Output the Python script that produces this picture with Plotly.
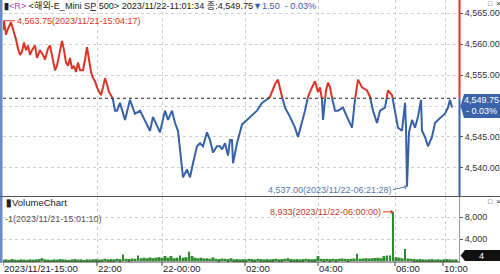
import plotly.graph_objects as go

# ---------------- data ----------------
REF_PRICE = 4551.25  # previous close
price_x = [3, 4, 6, 8, 11, 13, 16, 18, 20, 22, 24, 26, 28, 30, 32, 35, 37, 40, 43, 45,
           48, 50, 52, 55, 57, 60, 62, 64, 66, 68, 70, 72, 74, 76, 78, 80, 83, 85, 87, 89,
           91, 93, 95, 97, 99, 101, 103, 105, 107, 109, 111, 113, 115, 117, 120, 125, 130, 135, 140, 145,
           150, 153, 160, 165, 168, 172, 175, 178, 180, 182, 183, 187, 190, 193, 197, 200, 203, 207, 210, 213,
           217, 220, 222, 225, 228, 230, 232, 233, 237, 242, 247, 252, 257, 262, 267, 270, 275, 278, 282, 285,
           290, 295, 298, 302, 305, 308, 312, 315, 318, 320, 322, 323, 326, 328, 330, 333, 335, 338, 343, 347,
           352, 355, 358, 362, 367, 370, 373, 377, 380, 385, 388, 392, 395, 398, 402, 405, 406, 407, 409, 412,
           415, 418, 421, 422, 425, 428, 432, 435, 438, 442, 445, 448, 450, 452]
price_y = [4562.25, 4563.75, 4561.5, 4562.5, 4563.5, 4562.5, 4560.75, 4559.25, 4558.25, 4558.75,
           4560.25, 4559.0, 4559.75, 4558.25, 4559.0, 4559.75, 4557.75, 4559.0, 4558.25, 4557.5,
           4559.25, 4559.75, 4558.25, 4555.75, 4556.5, 4559.25, 4560.5, 4559.0, 4557.0, 4556.5,
           4557.75, 4556.0, 4556.5, 4555.5, 4557.0, 4555.75, 4555.75, 4557.5, 4559.5, 4557.5,
           4555.5, 4554.5, 4554.0, 4553.0, 4552.25, 4551.75, 4553.0, 4554.5, 4553.5, 4552.25,
           4551.75, 4551.0, 4549.25, 4549.25, 4550.5, 4547.75, 4551.0, 4548.75, 4549.25, 4547.75,
           4546.0, 4548.25, 4545.75, 4549.25, 4547.75, 4549.25, 4547.25, 4546.0, 4543.0, 4540.25,
           4538.5, 4539.75, 4538.5, 4540.75, 4543.5, 4544.0, 4543.5, 4545.75, 4544.5, 4542.5,
           4543.5, 4543.5, 4543.0, 4544.0, 4542.0, 4544.5, 4544.5, 4540.75, 4544.0, 4547.0,
           4547.75, 4548.5, 4549.25, 4550.5, 4551.0, 4551.5, 4553.5, 4554.25, 4551.5, 4549.75,
           4548.25, 4546.5, 4545.0, 4547.25, 4549.25, 4551.5, 4553.0, 4554.0, 4552.25, 4553.0,
           4551.0, 4547.75, 4552.5, 4553.75, 4553.0, 4550.5, 4549.25, 4549.25, 4549.75, 4548.25,
           4546.5, 4551.0, 4554.25, 4553.0, 4552.5, 4551.5, 4549.25, 4547.25, 4549.25, 4549.75,
           4552.5, 4551.75, 4549.25, 4546.5, 4546.0, 4550.5, 4546.5, 4537.0, 4545.75, 4547.75,
           4546.5, 4548.25, 4551.0, 4546.0, 4545.0, 4543.5, 4545.0, 4547.25, 4547.75, 4548.25,
           4548.75, 4549.75, 4551.0, 4549.75]

vol_x = list(range(3, 457, 3))
vol_y = [250, 300, 200, 350, 250, 200, 300, 250, 200, 300,
         250, 300, 350, 500, 300, 250, 200, 300, 250, 350,
         300, 250, 200, 300, 350, 250, 300, 200, 300, 250,
         300, 350, 250, 300, 400, 300, 350, 300, 400, 350,
         1200, 400, 350, 450, 400, 1000, 500, 600, 500, 650,
         500, 600, 700, 550, 900, 600, 900, 500, 600, 1000,
         600, 700, 1700, 900, 600, 500, 600, 450, 500, 400,
         650, 400, 350, 450, 400, 350, 500, 300, 350, 300,
         350, 300, 400, 350, 300, 400, 350, 300, 350, 300,
         350, 400, 300, 350, 400, 500, 350, 300, 350, 300,
         350, 400, 350, 300, 350, 900, 400, 350, 400, 350,
         400, 350, 400, 450, 400, 350, 400, 450, 1300, 400,
         450, 500, 450, 500, 550, 600, 500, 900, 1000, 1000,
         8933, 700, 600, 500, 2200, 450, 400, 350, 300, 350,
         300, 250, 300, 350, 250, 300, 250, 300, 350, 300,
         250, 300]

x_tick_vals = [3, 97, 162, 245, 318, 395, 443]
x_tick_text = ["2023/11/21-15:00", "22:00", "22-00:00", "02:00", "04:00", "06:00", "10:00"]
x_grid_vals = [97, 162, 245, 318, 395, 445]
price_ticks = [4540, 4545, 4550, 4555, 4560, 4565]
vol_ticks = [4000, 8000]

# ---------------- helpers ----------------
W, H = 500, 274
def px(x): return x / W
def py(y): return 1 - y / H

RED = "#dc3426"
BLUE = "#3762a8"
GREEN = "#2e8a2e"
GRID = "#cfcfcf"
FONT = "Liberation Sans, Noto Sans CJK KR, sans-serif"

def split_series(xs, ys, ref):
    up = ([], [])
    dn = ([], [])
    def add(side, seg):
        sx, sy = side
        if sx and sx[-1] == seg[0][0] and sy[-1] == seg[0][1]:
            sx.append(seg[1][0]); sy.append(seg[1][1])
        else:
            if sx:
                sx.append(None); sy.append(None)
            sx.extend([seg[0][0], seg[1][0]]); sy.extend([seg[0][1], seg[1][1]])
    for i in range(len(xs) - 1):
        x0, y0, x1, y1 = xs[i], ys[i], xs[i + 1], ys[i + 1]
        a0, a1 = y0 >= ref, y1 >= ref
        if a0 == a1:
            add(up if a0 else dn, [(x0, y0), (x1, y1)])
        else:
            t = (ref - y0) / (y1 - y0)
            xc = x0 + t * (x1 - x0)
            add(up if a0 else dn, [(x0, y0), (xc, ref)])
            add(up if a1 else dn, [(xc, ref), (x1, y1)])
    return up, dn

up, dn = split_series(price_x, price_y, REF_PRICE)

fig = go.Figure()
fig.add_trace(go.Scatter(x=up[0], y=up[1], mode="lines", line=dict(color=RED, width=2),
                         connectgaps=False, xaxis="x", yaxis="y", hoverinfo="skip"))
fig.add_trace(go.Scatter(x=dn[0], y=dn[1], mode="lines", line=dict(color=BLUE, width=2),
                         connectgaps=False, xaxis="x", yaxis="y", hoverinfo="skip"))
fig.add_trace(go.Bar(x=vol_x, y=vol_y, xaxis="x2", yaxis="y2",
                     marker=dict(color=GREEN, line=dict(width=0)),
                     width=[1.2 if v >= 1000 else 3 for v in vol_y], hoverinfo="skip"))

fig.update_layout(
    width=W, height=H, margin=dict(l=0, r=0, t=0, b=0),
    paper_bgcolor="white", plot_bgcolor="white", showlegend=False,
    font=dict(family=FONT, size=9, color="#333"),
    xaxis=dict(domain=[px(3), px(459)], range=[3, 459], anchor="y",
               tickvals=x_grid_vals, showticklabels=False, ticks="",
               showgrid=True, gridcolor=GRID, griddash="dot", gridwidth=1,
               zeroline=False, showline=False, automargin=False),
    yaxis=dict(domain=[py(196), 1], range=[4535.48, 4567.10], anchor="x", side="right",
               tickvals=price_ticks,
               ticktext=["" if v == 4550 else f"{v:,.2f}" for v in price_ticks],
               ticks="outside", ticklen=3, tickcolor="#555",
               tickfont=dict(size=9, color="#333"),
               showgrid=True, gridcolor=GRID, griddash="dot", zeroline=False,
               showline=False, automargin=False),
    xaxis2=dict(domain=[px(3), px(459)], range=[3, 459], anchor="y2",
                tickvals=x_grid_vals, showticklabels=False, ticks="",
                showgrid=True, gridcolor=GRID, griddash="dot",
                zeroline=False, showline=False, automargin=False),
    yaxis2=dict(domain=[py(262), py(197)], range=[-180, 11636], anchor="x2", side="right",
                tickvals=vol_ticks, ticktext=[f"{v:,}" for v in vol_ticks],
                ticks="outside", ticklen=3, tickcolor="#555",
                tickfont=dict(size=9, color="#333"),
                showgrid=True, gridcolor=GRID, griddash="dot", zeroline=False,
                showline=False, automargin=False),
)

shapes = []
# left blue strip
shapes.append(dict(type="rect", xref="paper", yref="paper", x0=0, x1=px(2.5), y0=py(263), y1=1,
                   fillcolor="#6a8bc6", line=dict(width=0), layer="above"))
# reference (previous close) dotted line
shapes.append(dict(type="line", xref="paper", yref="y", x0=px(3), x1=px(459), y0=REF_PRICE, y1=REF_PRICE,
                   line=dict(color="#222", width=1, dash="dot")))
# right axis line: red above ref, blue below
shapes.append(dict(type="line", xref="paper", yref="y", x0=px(459.5), x1=px(459.5), y0=REF_PRICE, y1=4567.10,
                   line=dict(color=RED, width=2)))
shapes.append(dict(type="line", xref="paper", yref="y", x0=px(459.5), x1=px(459.5), y0=4535.48, y1=REF_PRICE,
                   line=dict(color=BLUE, width=2)))
shapes.append(dict(type="line", xref="paper", yref="paper", x0=px(459.5), x1=px(459.5), y0=py(262), y1=py(197),
                   line=dict(color="#999", width=1)))
# panel separator
shapes.append(dict(type="line", xref="paper", yref="paper", x0=0, x1=1, y0=py(196.5), y1=py(196.5),
                   line=dict(color="#555", width=1.2)))
# bottom axis line
shapes.append(dict(type="line", xref="paper", yref="paper", x0=px(3), x1=px(460), y0=py(262), y1=py(262),
                   line=dict(color="#444", width=1)))
# x tick marks
for v in x_tick_vals:
    shapes.append(dict(type="line", xref="x2", yref="paper", x0=v, x1=v, y0=py(262), y1=py(266),
                       line=dict(color="#444", width=1)))
# current price tag (blue)
shapes.append(dict(type="path", xref="paper", yref="paper",
                   path=f"M {px(464)} {py(94)} L 1 {py(94)} L 1 {py(118)} L {px(464)} {py(118)} L {px(460.5)} {py(106)} Z",
                   fillcolor="#3a63aa", line=dict(width=0)))
# volume tag (black)
shapes.append(dict(type="path", xref="paper", yref="paper",
                   path=f"M {px(465)} {py(250)} L 1 {py(250)} L 1 {py(261)} L {px(465)} {py(261)} L {px(460.5)} {py(255.5)} Z",
                   fillcolor="#111", line=dict(width=0)))
fig.update_layout(shapes=shapes)

ann = []
def txt(x, y, t, color="#222", size=9, xanchor="left", **kw):
    ann.append(dict(xref="paper", yref="paper", x=px(x), y=py(y), text=t, showarrow=False,
                    xanchor=xanchor, yanchor="middle", font=dict(size=size, color=color, family=FONT), **kw))

# header
txt(2, 6, "<b>▮</b><span style='color:#b040b8'>&lt;R&gt;</span> &lt;해외-E_Mini S<span style='text-decoration:underline'>P</span> 500&gt; 2023/11/22-11:01:34 종:4,549.75", size=9.1)
txt(251, 6, "▼1.50  - 0.03%", color=BLUE, size=9.1)
txt(486, 4, "□", size=7, color="#333")
txt(494, 4, "×", size=8, color="#333")
txt(486, 201, "□", size=7, color="#333")
txt(494, 201, "×", size=8, color="#333")
# volume title
txt(4, 202, "<b>▮</b>VolumeChart", size=9.5, color="#222")
txt(3, 219, "-1(2023/11/21-15:01:10)", size=9, color="#555")
# price tag text
txt(481, 100, "4,549.75", color="white", size=9, xanchor="center")
txt(481, 111, "- 0.03%", color="white", size=9, xanchor="center")
txt(481, 255.5, "4", color="white", size=9, xanchor="center")
# x labels
for v, t in zip(x_tick_vals, x_tick_text):
    ann.append(dict(xref="x2", yref="paper", x=v, y=py(268.5), text=t, showarrow=False,
                    xanchor="left", yanchor="middle", xshift=-1,
                    font=dict(size=9.5, color="#222", family=FONT)))

# high / low / max volume markers
hi_i = price_y.index(max(price_y))
lo_i = price_y.index(min(price_y))
vmax_i = vol_y.index(max(vol_y))
ann.append(dict(xref="x", yref="y", x=price_x[hi_i], y=price_y[hi_i],
                text="4,563.75(2023/11/21-15:04:17)", showarrow=True, ax=11, ay=0,
                xanchor="left", arrowhead=0, arrowwidth=1, arrowcolor=RED,
                font=dict(size=9, color=RED, family=FONT)))
ann.append(dict(xref="x", yref="y", x=price_x[lo_i], y=price_y[lo_i],
                text="4,537.00(2023/11/22-06:21:28)", showarrow=True, ax=-14, ay=3,
                xanchor="right", arrowhead=1, arrowsize=0.8, arrowwidth=1, arrowcolor="#5a78aa",
                font=dict(size=9, color="#5a78aa", family=FONT)))
ann.append(dict(xref="x2", yref="y2", x=vol_x[vmax_i], y=vol_y[vmax_i],
                text="8,933(2023/11/22-06:00:00)", showarrow=True, ax=-10, ay=0,
                xanchor="right", arrowhead=1, arrowsize=0.8, arrowwidth=1, arrowcolor=RED,
                font=dict(size=9, color="#c0392b", family=FONT)))
fig.update_layout(annotations=ann)

fig.write_html("out.html")
